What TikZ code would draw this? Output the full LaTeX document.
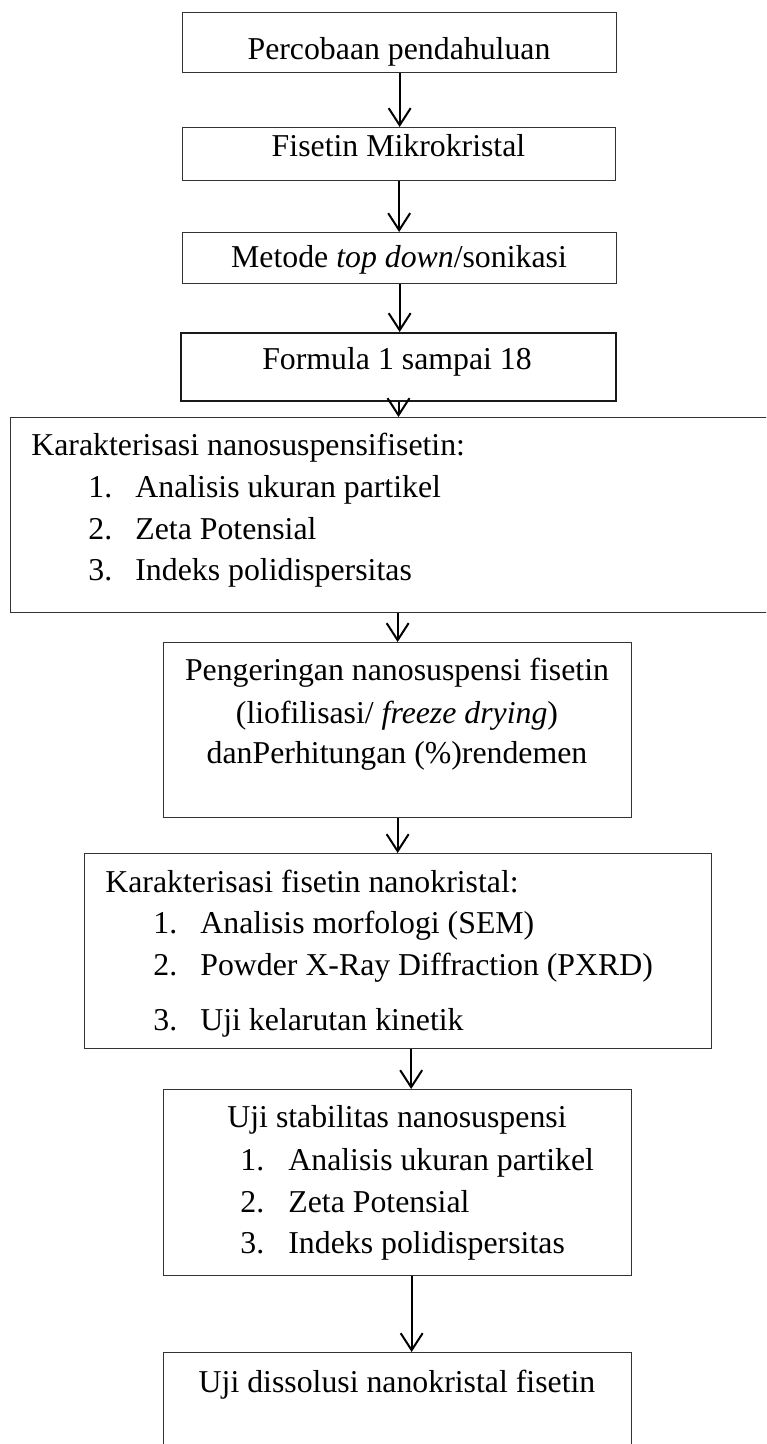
\documentclass[tikz,border=0pt]{standalone}
\usepackage{fontspec}
\setmainfont{Liberation Serif}
\usetikzlibrary{arrows.meta}
\begin{document}
\begin{tikzpicture}[x=0.5pt,y=-0.5pt,
  box/.style={draw=black!80,line width=0.65pt,rectangle,anchor=north west,inner sep=0pt},
  txt/.style={inner sep=0pt,font=\fontsize{15.9}{19}\selectfont},
  arr/.style={line width=1pt,-{Straight Barb[length=8.5pt,width=11pt,line width=1pt]}}]
\useasboundingbox (0,0) rectangle (766,1444);
\clip (0,0) rectangle (766,1444);
% boxes
\node[box,minimum width=217pt,minimum height=30pt] (b1) at (182,12) {};
\node[box,minimum width=216.5pt,minimum height=26.5pt] (b2) at (182,127) {};
\node[box,minimum width=217pt,minimum height=25.5pt] (b3) at (182,232) {};
\node[box,line width=1pt,draw=black!90,minimum width=217.5pt,minimum height=34pt] (b4) at (180,332) {};
\node[box,minimum width=385pt,minimum height=97.5pt] (b5) at (10,417) {};
\node[box,minimum width=234pt,minimum height=87.5pt] (b6) at (163,642) {};
\node[box,minimum width=313.5pt,minimum height=97.5pt] (b7) at (84,853) {};
\node[box,minimum width=234pt,minimum height=93pt] (b8) at (163,1089) {};
\node[box,minimum width=234pt,minimum height=60pt] (b9) at (163,1352) {};
% texts
\node[txt,anchor=base] (t1) at (399,60) {Percobaan pendahuluan};
\node[txt,anchor=base] (t2) at (398.5,157) {Fisetin Mikrokristal};
\node[txt,anchor=base] (t3) at (399,268) {Metode \textit{top down}/sonikasi};
\node[txt,anchor=base] (t4) at (397,370) {Formula 1 sampai 18};
\node[txt,anchor=base west] (t5) at (31,455) {Karakterisasi nanosuspensifisetin:};
\node[txt,anchor=base west] (t5n1) at (88,497) {1.};
\node[txt,anchor=base west] (t5a) at (135,497) {Analisis ukuran partikel};
\node[txt,anchor=base west] (t5n2) at (88,539) {2.};
\node[txt,anchor=base west] (t5b) at (135,539) {Zeta Potensial};
\node[txt,anchor=base west] (t5n3) at (88,580) {3.};
\node[txt,anchor=base west] (t5c) at (135,580) {Indeks polidispersitas};
\node[txt,anchor=base] (t6a) at (397,680) {Pengeringan nanosuspensi fisetin};
\node[txt,anchor=base] (t6b) at (397,723) {(liofilisasi/ \textit{freeze drying})};
\node[txt,anchor=base] (t6c) at (397,763) {danPerhitungan (\%)rendemen};
\node[txt,anchor=base west] (t7) at (105,892) {Karakterisasi fisetin nanokristal:};
\node[txt,anchor=base west] (t7n1) at (153,933) {1.};
\node[txt,anchor=base west] (t7a) at (200,933) {Analisis morfologi (SEM)};
\node[txt,anchor=base west] (t7n2) at (153,975) {2.};
\node[txt,anchor=base west] (t7b) at (200,975) {Powder X-Ray Diffraction (PXRD)};
\node[txt,anchor=base west] (t7n3) at (153,1030) {3.};
\node[txt,anchor=base west] (t7c) at (200,1030) {Uji kelarutan kinetik};
\node[txt,anchor=base] (t8) at (397,1127) {Uji stabilitas nanosuspensi};
\node[txt,anchor=base west] (t8n1) at (240,1170) {1.};
\node[txt,anchor=base west] (t8a) at (288,1170) {Analisis ukuran partikel};
\node[txt,anchor=base west] (t8n2) at (240,1212) {2.};
\node[txt,anchor=base west] (t8b) at (288,1212) {Zeta Potensial};
\node[txt,anchor=base west] (t8n3) at (240,1253) {3.};
\node[txt,anchor=base west] (t8c) at (288,1253) {Indeks polidispersitas};
\node[txt,anchor=base] (t9) at (397,1392) {Uji dissolusi nanokristal fisetin};
% arrows
\draw[arr] (b1.south) -- (b1.south |- b2.north);
\draw[arr] (b2.south) -- (b2.south |- b3.north);
\draw[arr] (b3.south) -- (b3.south |- b4.north);
\draw[arr] (b4.south) -- (b4.south |- b5.north);
\draw[arr] (b6.north |- b5.south) -- (b6.north);
\draw[arr] (b6.south) -- (b6.south |- b7.north);
\draw[arr] ([xshift=6.5pt]b7.south) -- ([xshift=6.5pt]b7.south |- b8.north);
\draw[arr] ([xshift=7pt]b8.south) -- ([xshift=7pt]b8.south |- b9.north);
\end{tikzpicture}
\end{document}
